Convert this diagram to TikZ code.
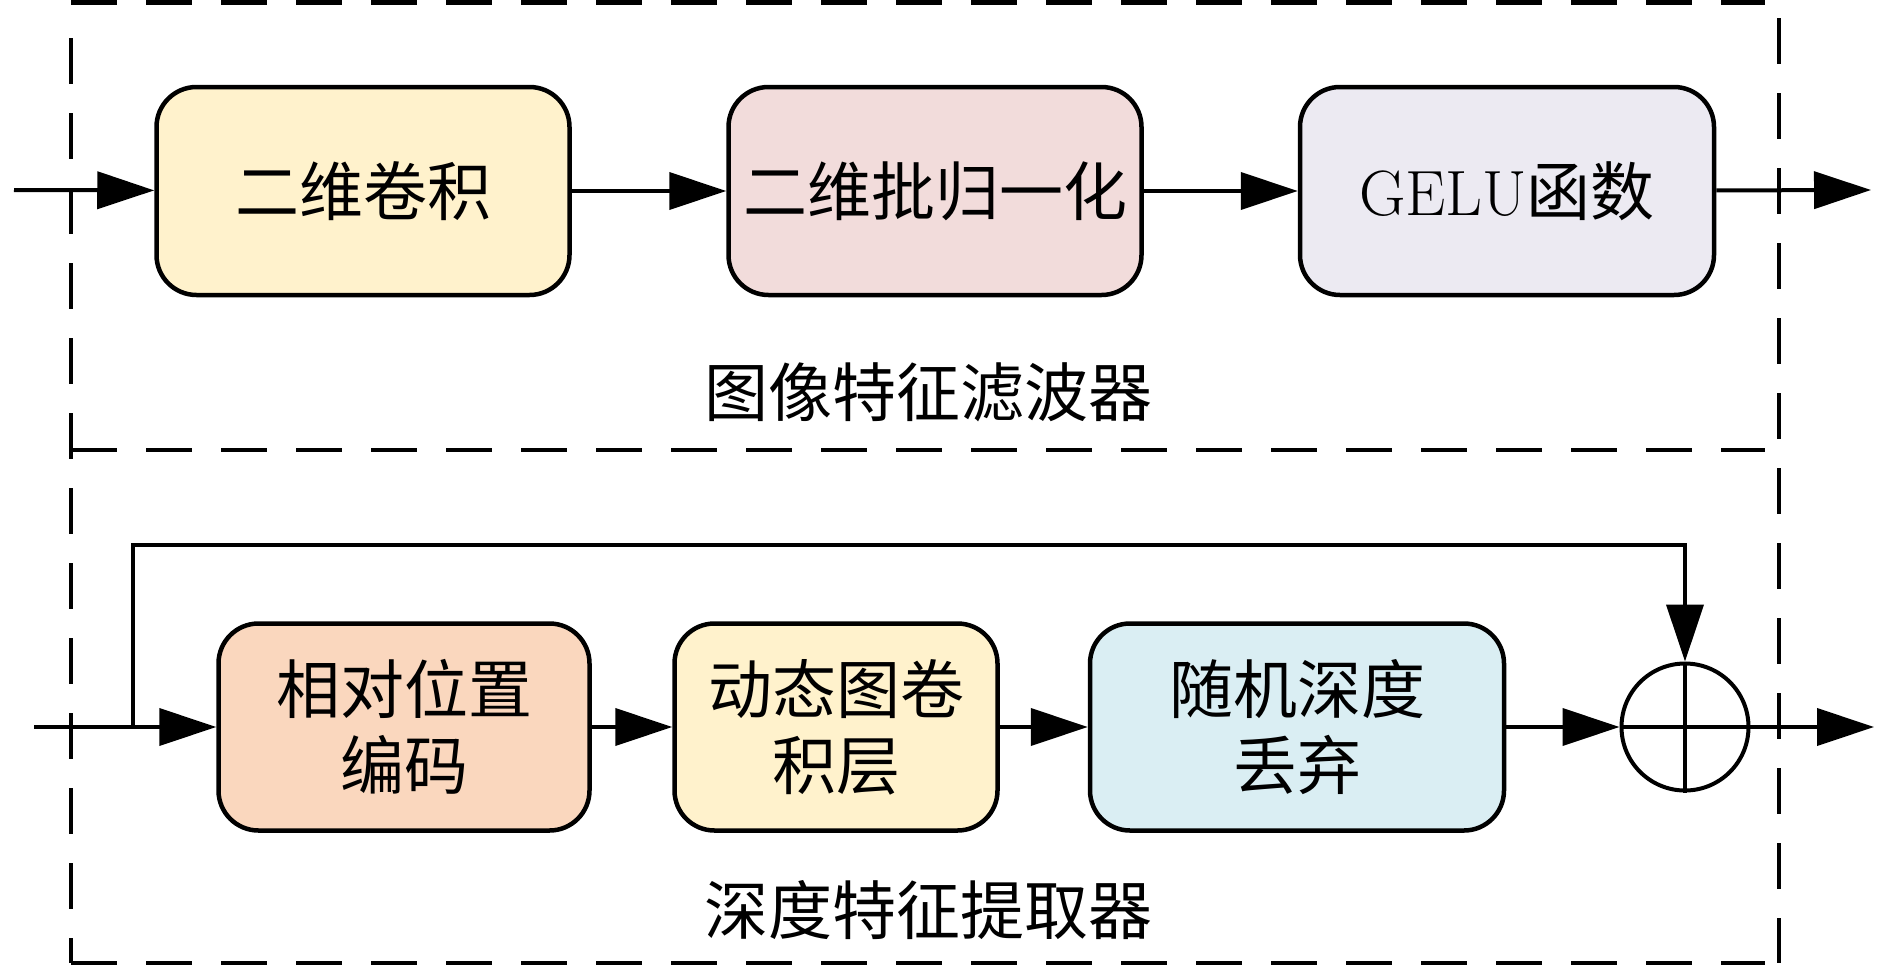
\documentclass[tikz,border=0pt]{standalone}
\usepackage{fontspec}
\newfontfamily\cjk{Noto Sans CJK SC}
\usetikzlibrary{arrows.meta}
\definecolor{cYel}{HTML}{FFF2CC}
\definecolor{cPink}{HTML}{F2DCDB}
\definecolor{cLav}{HTML}{ECEAF2}
\definecolor{cPeach}{HTML}{FAD7BE}
\definecolor{cBlue}{HTML}{DAEEF3}
\tikzset{
  blk/.style={draw=black, line width=4.5pt, rounded corners=40pt, inner sep=0pt,
    align=center, font=\fontsize{64pt}{76pt}\selectfont},
  arr/.style={line width=4pt, -{Triangle[length=57pt,width=37pt]}},
  ln/.style={line width=4pt},
  frame/.style={line width=4.5pt, dash pattern=on 46pt off 29pt},
  lbl/.style={font=\fontsize{64pt}{76pt}\selectfont\cjk, inner sep=0pt}
}
\begin{document}
\begin{tikzpicture}[x=1pt,y=-1pt]
\useasboundingbox (0,0) rectangle (1890,967);
% frames
\draw[frame] (71,2.5) -- (1765,2.5);
\draw[frame] (71,450) -- (1765,450);
\draw[frame] (71,963) -- (1765,963);
\draw[frame] (71,38) -- (71,963);
\draw[frame] (1779,18) -- (1779,963);
% top row
\node[blk, fill=cYel, minimum width=413pt, minimum height=208pt] (b1) at (363,191) {\cjk 二维卷积};
\node[blk, fill=cPink, minimum width=413pt, minimum height=208pt] (b2) at (935,191) {\cjk 二维批归一化};
\node[blk, fill=cLav, minimum width=414pt, minimum height=208pt] (b3) at (1507,191) {GELU\cjk 函数};
\coordinate (in1) at (14,190);
\coordinate (out1) at (1871,190);
\draw[arr] (in1) -- (b1);
\draw[arr] (b1) -- (b2);
\draw[arr] (b2) -- (b3);
\draw[arr] (b3) -- (out1);
\node[lbl] (t1) at (928,392) {图像特征滤波器};
% bottom row
\node[blk, fill=cPeach, minimum width=371pt, minimum height=207pt] (b4) at (404,727) {\cjk 相对位置\\\cjk 编码};
\node[blk, fill=cYel, minimum width=323pt, minimum height=207pt] (b5) at (836,727) {\cjk 动态图卷\\\cjk 积层};
\node[blk, fill=cBlue, minimum width=414pt, minimum height=207pt] (b6) at (1297,727) {\cjk 随机深度\\\cjk 丢弃};
\node[draw, circle, line width=4pt, minimum size=127pt, inner sep=0pt] (c) at (1685,727) {};
\draw[ln] (c.north) -- (c.south);
\draw[ln] (c.west) -- (c.east);
\coordinate (in2) at (34,727);
\coordinate (sk) at (133,727);
\coordinate (sktop) at (1685,545);
\coordinate (out2) at (1874,727);
\draw[arr] (in2) -- (b4);
\draw[arr] (b4) -- (b5);
\draw[arr] (b5) -- (b6);
\draw[arr] (b6) -- (c);
\draw[arr] (c) -- (out2);
\draw[arr] (sk) |- (sktop) -- (c);
\node[lbl] (t2) at (928,910) {深度特征提取器};
\end{tikzpicture}
\end{document}
